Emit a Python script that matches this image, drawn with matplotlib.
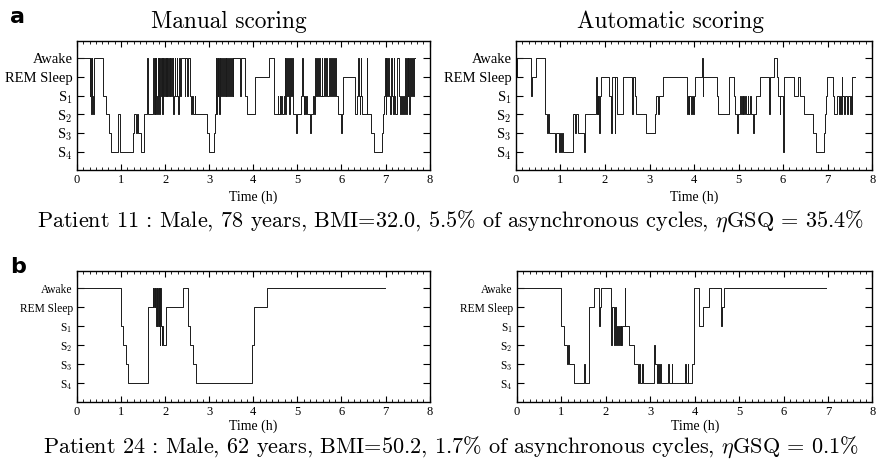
import matplotlib
matplotlib.use("Agg")
import matplotlib.pyplot as plt
from matplotlib.ticker import MultipleLocator

plt.rcParams['font.family'] = ['Liberation Serif', 'DejaVu Serif']
plt.rcParams['mathtext.fontset'] = 'cm'

# sleep stages (y position of each label)
stage_names = ['Awake', 'REM Sleep', 'S$_1$', 'S$_2$', 'S$_3$', 'S$_4$']
stage_codes = ['W', 'R', '1', '2', '3', '4']
level = {'W': 6, 'R': 5, '1': 4, '2': 3, '3': 2, '4': 1}

# patient 11, manual scoring: time (h) where each stage starts
m11_t = [0.00, 0.29, 0.30, 0.31, 0.33, 0.35, 0.36, 0.38, 0.59, 0.66, 0.73, 0.77, 0.94, 0.97,
         1.27, 1.30, 1.35, 1.36, 1.39, 1.46, 1.52, 1.60, 1.61,
         1.72, 1.74, 1.76, 1.77, 1.79, 1.80, 1.81, 1.83, 1.84, 1.86, 1.87, 1.89, 1.90, 1.92,
         1.93, 1.95, 1.96, 1.98, 1.99, 2.01, 2.02, 2.04, 2.05, 2.07, 2.08, 2.10, 2.11, 2.14,
         2.15, 2.17, 2.18, 2.20, 2.22, 2.23, 2.26, 2.27, 2.29, 2.31, 2.33, 2.36, 2.44, 2.45,
         2.50, 2.51, 2.56, 2.58, 2.61, 2.63, 2.67, 2.68, 2.95, 3.00, 3.10, 3.13,
         3.15, 3.16, 3.18, 3.19, 3.21, 3.22, 3.24, 3.25, 3.27, 3.29, 3.31, 3.33, 3.35, 3.37,
         3.39, 3.41, 3.43, 3.45, 3.47, 3.49, 3.51, 3.53, 3.55, 3.70, 3.71, 3.81,
         3.85, 4.04, 4.36, 4.46, 4.48,
         4.55, 4.56, 4.60, 4.61, 4.64, 4.65, 4.69, 4.71, 4.73, 4.75, 4.77, 4.79, 4.81, 4.83,
         4.85, 4.87, 4.89, 4.91, 4.97, 4.99, 5.08, 5.11, 5.12, 5.14, 5.15, 5.17,
         5.20, 5.21, 5.28, 5.30, 5.36, 5.38, 5.40, 5.42, 5.45, 5.47, 5.50, 5.52,
         5.55, 5.57, 5.60, 5.62, 5.64, 5.67, 5.71, 5.73, 5.76, 5.78, 5.81, 5.83, 5.86, 5.88,
         5.93, 5.99, 6.01, 6.03, 6.30, 6.36, 6.38, 6.39, 6.41, 6.43, 6.44, 6.45,
         6.47, 6.57, 6.58, 6.66, 6.74, 6.92, 6.95, 6.97, 6.98, 7.00, 7.02, 7.04,
         7.06, 7.08, 7.10, 7.12, 7.14, 7.16, 7.19, 7.20, 7.22, 7.25, 7.27, 7.30, 7.32, 7.35,
         7.37, 7.40, 7.42, 7.44, 7.46, 7.48, 7.50, 7.52, 7.54, 7.56, 7.58, 7.60, 7.62, 7.64]
m11_s = ['W', '1', 'W', '2', 'W', '1', '2', 'W', '1', '2', '3', '4', '2', '4',
         '3', '2', '3', '2', '3', '4', '2', 'W', '2',
         'W', '2', 'W', '2', 'W', '1', '2', 'W', '1', 'W', '2', 'W', '1', 'W',
         '2', 'W', '1', 'W', '1', 'W', '1', 'W', '1', 'W', '1', 'W', '1', 'W',
         '1', 'W', '2', '1', 'W', '1', 'W', '1', '2', 'W', '1', 'W', '1', 'W',
         '1', 'W', '1', '2', '1', '2', '1', '2', '3', '4', '3', '2',
         'W', '2', 'W', '1', 'W', '2', 'W', '1', 'W', '1', 'W', '1', 'W', '1',
         'W', '1', 'W', '1', 'W', '1', 'W', '1', 'W', '1', 'W', '1',
         '2', 'R', 'W', '1', '2',
         '1', '2', '1', '2', '1', '2', '1', 'W', '2', 'W', '1', 'W', '2', 'W',
         '1', 'W', '1', '2', '3', '2', '1', 'W', '1', '2', '1', '2',
         '1', '2', '3', '2', '1', '2', 'W', '1', 'W', '1', 'W', '1',
         'W', '1', 'W', '1', 'W', '1', 'W', '1', 'W', '1', 'W', '1', 'W', '1',
         '2', '3', '2', 'R', '2', '1', 'W', '1', '2', '1', 'W', '1',
         '2', 'W', '2', '3', '4', '3', '2', '1', 'W', '2', 'W', '1',
         'W', '1', '2', 'W', '1', '2', 'W', '1', '2', '1', 'W', '1', '2', '1',
         '2', '1', '2', 'W', '2', 'W', '1', 'W', '2', 'W', '1', 'W', '1', 'W']
m11_end = 7.66

# patient 11, automatic scoring
a11_t = [0.00, 0.02, 0.33, 0.35, 0.45, 0.66, 0.69, 0.71, 0.74, 0.88, 0.91, 0.97, 1.00, 1.02,
         1.04, 1.06, 1.27, 1.32, 1.34, 1.40, 1.52, 1.55, 1.80, 1.81, 1.82, 1.84, 1.85, 1.87,
         1.88, 1.90, 2.08, 2.14, 2.16, 2.22, 2.23, 2.28, 2.41, 2.61, 2.63, 2.68, 2.70, 2.93,
         3.12, 3.14, 3.20, 3.21, 3.31, 3.85, 3.86, 3.88, 3.89, 3.93, 3.95, 3.97, 3.99, 4.02,
         4.18, 4.19, 4.20, 4.51, 4.53, 4.78, 4.90, 4.93, 4.97, 4.99, 5.03, 5.05, 5.07, 5.09,
         5.11, 5.13, 5.15, 5.17, 5.20, 5.22, 5.26, 5.28, 5.33, 5.35, 5.39, 5.48, 5.69, 5.70,
         5.79, 5.86, 5.88, 5.92, 5.93, 5.99, 6.01, 6.03, 6.24, 6.33, 6.38, 6.47, 6.66, 6.74,
         6.92, 6.94, 6.96, 6.99, 7.12, 7.15, 7.22, 7.25, 7.27, 7.29, 7.32, 7.33, 7.36, 7.40,
         7.43, 7.46, 7.50, 7.52, 7.54, 7.55]
a11_s = ['R', 'W', '1', 'R', 'W', '2', '3', '2', '3', '4', '3', '4', '3', '4',
         '3', '4', '2', '3', '2', '3', '4', '2', 'R', '2', '1', '2', '1', '3',
         '1', 'R', '1', '3', 'R', '3', 'R', '2', 'R', '2', 'R', '1', '2', '3',
         '2', '1', '2', '1', 'R', '2', '1', '2', '1', '2', '1', '2', '1', 'R',
         'W', '1', 'R', '1', '2', 'R', '1', '2', '3', '2', '1', '2', '1', '2',
         '1', '2', '1', '2', '1', '2', '1', '2', '3', '2', '1', 'R', '2', 'R',
         'W', 'R', '1', '2', '1', '4', '1', 'R', '1', 'R', '1', '2', '3', '4',
         '3', '2', '1', 'R', '1', '2', '1', '2', '1', '2', 'R', '1', '2', '1',
         '2', '1', '2', '1', '2', 'R']
a11_end = 7.62

# patient 24, manual scoring
m24_t = [0.00, 1.00, 1.04, 1.11, 1.15, 1.61, 1.72, 1.73, 1.74, 1.76, 1.77, 1.79, 1.81, 1.82,
         1.84, 1.85, 1.87, 1.88, 1.89, 1.90, 1.92, 1.94, 1.96, 2.01, 2.40, 2.53, 2.57, 2.64,
         2.69, 3.98, 4.02, 4.30]
m24_s = ['W', '1', '2', '3', '4', 'R', 'W', 'R', 'W', 'R', 'W', '1', 'W', '1',
         'W', '1', 'W', '2', 'W', '1', '2', '1', '2', 'R', 'W', '1', '2', '3',
         '4', '2', 'R', 'W']
m24_end = 6.98

# patient 24, automatic scoring
a24_t = [0.00, 0.99, 1.05, 1.13, 1.14, 1.16, 1.28, 1.50, 1.52, 1.61, 1.74, 1.84, 1.86, 1.89,
         2.12, 2.14, 2.18, 2.20, 2.23, 2.25, 2.27, 2.29, 2.31, 2.33, 2.35, 2.37, 2.42, 2.44,
         2.51, 2.64, 2.73, 2.75, 2.77, 2.82, 2.83, 3.08, 3.11, 3.16, 3.18, 3.20, 3.23, 3.24,
         3.41, 3.43, 3.48, 3.50, 3.78, 3.80, 3.85, 3.86, 3.93, 3.98, 4.10, 4.19, 4.32, 4.60,
         4.62, 4.66]
a24_s = ['W', '1', '2', '3', '2', '3', '4', '3', '4', 'R', 'W', '1', 'R', 'W',
         '2', 'R', '2', 'R', '2', '1', '2', '1', '2', '1', '2', '1', 'W', '1',
         '2', '3', '4', '3', '4', '3', '4', '2', '3', '4', '3', '4', '3', '4',
         '3', '4', '3', '4', '3', '4', '3', '4', '3', 'W', '1', 'R', 'W', '1',
         'R', 'W']
a24_end = 6.95

titles = ['Manual scoring', 'Automatic scoring']
caption_a = r'Patient 11 : Male, 78 years, BMI=32.0, 5.5% of asynchronous cycles, $\eta$GSQ = 35.4%'
caption_b = r'Patient 24 : Male, 62 years, BMI=50.2, 1.7% of asynchronous cycles, $\eta$GSQ = 0.1%'

fig = plt.figure(figsize=(8.95, 4.63), dpi=100)

boxes = [[0.086, 0.633, 0.394, 0.278], [0.5765, 0.633, 0.398, 0.278],
         [0.086, 0.132, 0.394, 0.283], [0.5777, 0.132, 0.397, 0.283]]
series = [(m11_t, m11_s, m11_end), (a11_t, a11_s, a11_end),
          (m24_t, m24_s, m24_end), (a24_t, a24_s, a24_end)]

for i, (box, (t, s, end)) in enumerate(zip(boxes, series)):
    ax = fig.add_axes(box)
    y = [level[c] for c in s]
    ax.step(t + [end], y + [y[-1]], where='post', color='#1a1a1a', lw=0.7)
    ax.set_xlim(0, 8)
    ax.set_ylim(0.02, 6.92)
    ax.set_yticks([level[c] for c in stage_codes])
    ax.set_yticklabels(stage_names, fontsize=10.5 if i < 2 else 8.3)
    ax.set_xticks(range(9))
    ax.xaxis.set_minor_locator(MultipleLocator(1 / 7))
    ax.tick_params(axis='x', labelsize=9, direction='in', top=True, length=4, width=0.8, pad=3)
    ax.tick_params(axis='x', which='minor', direction='in', top=True, length=2.2, width=0.6)
    ax.tick_params(axis='y', direction='in', right=True, length=5, width=0.8, pad=3)
    ax.set_xlabel('Time (h)', fontsize=10, labelpad=3 if i < 2 else 1)
    for sp in ax.spines.values():
        sp.set_linewidth(1.0)

for x, title in zip([0.256, 0.749], titles):
    fig.text(x, 0.94, title, ha='center', va='baseline', family='cmr10', fontsize=16.8)

fig.text(0.504, 0.51, caption_a, ha='center', va='baseline', family='cmr10', fontsize=16)
fig.text(0.504, 0.022, caption_b, ha='center', va='baseline', family='cmr10', fontsize=16)

fig.text(0.011, 0.95, 'a', family='DejaVu Sans', weight='bold', fontsize=16, va='baseline')
fig.text(0.011, 0.41, 'b', family='DejaVu Sans', weight='bold', fontsize=16, va='baseline')

fig.savefig('out.png', dpi=100)
